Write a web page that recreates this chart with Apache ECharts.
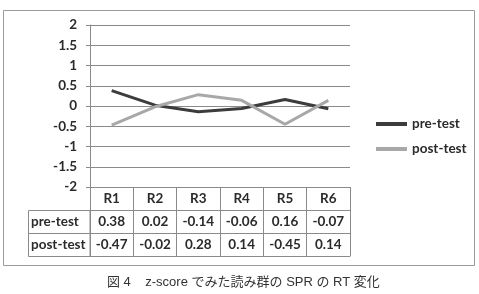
<!DOCTYPE html>
<html>
<head>
<meta charset="utf-8">
<script src="https://cdn.jsdelivr.net/npm/echarts@6/dist/echarts.min.js"></script>
<style>
  html, body { margin: 0; padding: 0; background: #fff; }
  #chart { width: 479px; height: 294px; }
</style>
</head>
<body>
<div id="chart"></div>
<script>
// 系列数据
const categories = ['R1', 'R2', 'R3', 'R4', 'R5', 'R6'];
const preTest = [0.38, 0.02, -0.14, -0.06, 0.16, -0.07];
const postTest = [-0.47, -0.02, 0.28, 0.14, -0.45, 0.14];
const seriesNames = ['pre-test', 'post-test'];
const yTicks = { min: -2, max: 2, interval: 0.5 };
const caption = '図 4\u00a0\u00a0\u00a0\u00a0z-score でみた読み群の SPR の RT 変化';

document.addEventListener('DOMContentLoaded', function() {
    const el = document.getElementById('chart');
    const chart = echarts.init(el);

    const font = 'Lato';
    const textColor = '#2b2b2b';
    const lineColor = '#8a8a8a';
    const rowH = 23;

    // 表格的一行：用类别轴画出来
    function tableAxis(offset, values, showLabel) {
        return {
            type: 'category',
            data: categories,
            gridIndex: 0,
            position: 'bottom',
            offset: offset,
            axisLine: { show: true, onZero: false, lineStyle: { color: lineColor, width: 1 } },
            axisTick: {
                show: showLabel,
                interval: 0,
                length: rowH,
                lineStyle: { color: lineColor }
            },
            axisLabel: {
                show: showLabel,
                interval: 0,
                margin: 5,
                fontFamily: font,
                fontWeight: 'bold',
                fontSize: 13.5,
                color: textColor,
                formatter: function(v, i) {
                    return values ? values[i].toFixed(2) : v;
                }
            }
        };
    }

    const option = {
        animation: false,
        title: {
            text: caption,
            left: 102,
            top: 271,
            textStyle: {
                fontFamily: '"Liberation Sans", "Noto Sans CJK JP"',
                fontWeight: 'normal',
                fontSize: 13,
                color: '#333'
            }
        },
        grid: { left: 90, right: 129, top: 25, bottom: 107 },
        legend: {
            orient: 'vertical',
            left: 371,
            top: 112,
            itemWidth: 31,
            itemHeight: 4,
            itemGap: 11,
            icon: 'rect',
            data: seriesNames,
            textStyle: { fontFamily: font, fontWeight: 'bold', fontSize: 13.5, color: textColor }
        },
        xAxis: [
            tableAxis(0, null, true),
            tableAxis(rowH, preTest, true),
            tableAxis(rowH * 2, postTest, true),
            tableAxis(rowH * 3, null, false)
        ],
        yAxis: {
            type: 'value',
            min: yTicks.min,
            max: yTicks.max,
            interval: yTicks.interval,
            axisLine: { show: true, lineStyle: { color: lineColor } },
            axisTick: { show: true, length: 4, lineStyle: { color: lineColor } },
            splitLine: { show: true, lineStyle: { color: lineColor, width: 1 } },
            axisLabel: {
                margin: 13,
                fontFamily: font,
                fontWeight: 'bold',
                fontSize: 13.5,
                color: textColor
            }
        },
        series: [
            {
                name: seriesNames[0],
                type: 'line',
                data: preTest,
                symbol: 'none',
                lineStyle: { color: '#3c3c3c', width: 3 },
                itemStyle: { color: '#3c3c3c' }
            },
            {
                name: seriesNames[1],
                type: 'line',
                data: postTest,
                symbol: 'none',
                lineStyle: { color: '#a8a8a8', width: 3 },
                itemStyle: { color: '#a8a8a8' }
            }
        ],
        graphic: [
            // 外框
            {
                type: 'rect',
                shape: { x: 3.5, y: 10.5, width: 471, height: 255 },
                style: { fill: 'none', stroke: '#9a9a9a', lineWidth: 1 }
            },
            // 表格左列
            {
                type: 'rect',
                shape: { x: 28.5, y: 210.5, width: 61.5, height: rowH * 2 },
                style: { fill: 'none', stroke: lineColor, lineWidth: 1 }
            },
            {
                type: 'line',
                shape: { x1: 28.5, y1: 233.5, x2: 90, y2: 233.5 },
                style: { stroke: lineColor, lineWidth: 1 }
            },
            {
                type: 'text',
                left: 31,
                top: 215,
                style: { text: seriesNames[0], font: 'bold 13.5px Lato', fill: textColor }
            },
            {
                type: 'text',
                left: 31,
                top: 238,
                style: { text: seriesNames[1], font: 'bold 13.5px Lato', fill: textColor }
            }
        ]
    };

    chart.setOption(option);

    window.addEventListener('resize', function() {
        chart.resize();
    });
});
</script>
</body>
</html>
